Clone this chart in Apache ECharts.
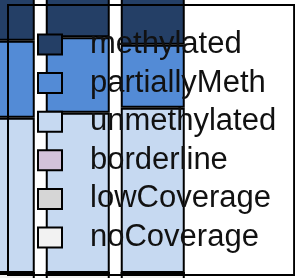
<!DOCTYPE html>
<html>
<head>
<meta charset="utf-8">
<script src="https://cdn.jsdelivr.net/npm/echarts@6/dist/echarts.min.js"></script>
<style>
  html, body { margin: 0; padding: 0; background: #fff; }
  #chart { width: 295px; height: 278px; }
</style>
</head>
<body>
<div id="chart"></div>
<script>
// samples (only part of the plot is visible)
const samples = ['S1', 'S2', 'S3'];

// stacked bottom -> top; the axis starts at 10 so the base sits below the frame
const noCoverage = [11.8, 11.8, 11.8];
const lowCoverage = [0, 0, 0];
const borderline = [0, 0, 0];
const unmethylated = [55.8, 57.6, 59.4];
const partiallyMeth = [27.7, 27.2, 22.7];
const methylated = [25, 25, 25];

const legendNames = ['methylated', 'partiallyMeth', 'unmethylated', 'borderline', 'lowCoverage', 'noCoverage'];

const colors = {
  methylated: '#243f66',
  partiallyMeth: '#538bd6',
  unmethylated: '#c6d9f1',
  borderline: '#d3c2da',
  lowCoverage: '#d6d6d6',
  noCoverage: '#f2f2f2'
};

const chart = echarts.init(document.getElementById('chart'));

function barSeries(name, values) {
  return {
    name: name,
    type: 'bar',
    stack: 'all',
    barWidth: 64,
    clip: false,
    data: values,
    itemStyle: {
      color: colors[name],
      borderColor: '#000',
      borderWidth: 2
    }
  };
}

const option = {
  animation: false,
  grid: {
    left: 2.75,
    right: 142.25,
    top: 0,
    bottom: 0
  },
  xAxis: {
    type: 'category',
    data: samples,
    boundaryGap: false,
    show: false
  },
  yAxis: {
    type: 'value',
    min: 10,
    max: 110,
    show: false
  },
  legend: {
    orient: 'vertical',
    left: 8,
    top: 5,
    data: legendNames,
    padding: [24, 18, 22, 29],
    itemGap: 7.6,
    itemWidth: 24,
    itemHeight: 20,
    borderColor: '#000',
    borderWidth: 2,
    icon: 'rect',
    itemStyle: {
      borderColor: '#000',
      borderWidth: 2
    },
    textStyle: {
      fontFamily: 'Liberation Sans',
      fontSize: 31,
      color: '#111',
      padding: [0, 0, 0, 23]
    }
  },
  series: [
    barSeries('noCoverage', noCoverage),
    barSeries('lowCoverage', lowCoverage),
    barSeries('borderline', borderline),
    barSeries('unmethylated', unmethylated),
    barSeries('partiallyMeth', partiallyMeth),
    barSeries('methylated', methylated)
  ]
};

chart.setOption(option);
</script>
</body>
</html>
